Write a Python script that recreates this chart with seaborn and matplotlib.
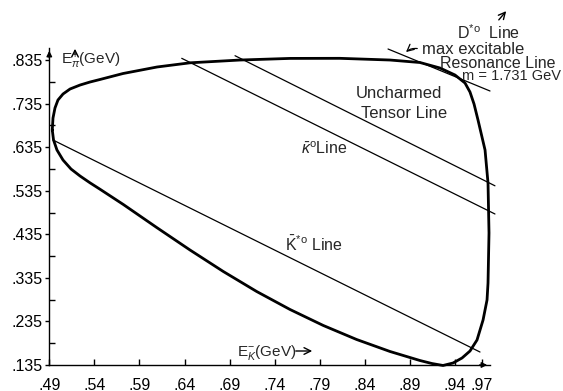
import matplotlib
matplotlib.use("Agg")
import matplotlib.pyplot as plt
import seaborn as sns
import pandas as pd

sns.set_theme(style="white")
plt.rcParams["font.family"] = ["Liberation Sans", "DejaVu Sans"]
plt.rcParams["mathtext.fontset"] = "custom"
plt.rcParams["mathtext.rm"] = "Liberation Sans"
plt.rcParams["mathtext.it"] = "Liberation Sans:italic"
plt.rcParams["mathtext.bf"] = "Liberation Sans:bold"

# ---- data ----
boundary_ek = [0.4933, 0.4941, 0.4963, 0.4996, 0.5052, 0.5130, 0.5241, 0.5351, 0.5462,
               0.5717, 0.6095, 0.6461, 0.7015, 0.7570, 0.8122, 0.8679, 0.9011, 0.9233,
               0.9400, 0.9511, 0.9566, 0.9611, 0.9655, 0.9733, 0.9766, 0.9777, 0.9766,
               0.9755, 0.9711, 0.9644, 0.9566, 0.9478, 0.9378, 0.9267, 0.9144, 0.9011,
               0.8679, 0.8309, 0.7939, 0.7570, 0.7200, 0.6830, 0.6461, 0.6091, 0.5721,
               0.5462, 0.5351, 0.5241, 0.5141, 0.5052, 0.4985, 0.4947, 0.4933]
boundary_epi = [0.6744, 0.7019, 0.7249, 0.7432, 0.7570, 0.7685, 0.7776, 0.7845, 0.7903,
                0.8040, 0.8190, 0.8286, 0.8350, 0.8387, 0.8389, 0.8350, 0.8293, 0.8167,
                0.8006, 0.7822, 0.7616, 0.7340, 0.6973, 0.6285, 0.5527, 0.4380, 0.3232,
                0.2842, 0.2383, 0.1924, 0.1671, 0.1511, 0.1396, 0.1339, 0.1384, 0.1453,
                0.1660, 0.1935, 0.2257, 0.2624, 0.3037, 0.3496, 0.3989, 0.4506, 0.5034,
                0.5385, 0.5532, 0.5688, 0.5848, 0.6055, 0.6285, 0.6514, 0.6744]

kstar_ek = [0.4941, 0.9677]
kstar_epi = [0.6514, 0.1648]
kappa_ek = [0.6369, 0.9843]
kappa_epi = [0.8389, 0.4816]
tensor_ek = [0.6960, 0.9843]
tensor_epi = [0.8449, 0.5463]
dstar_ek = [0.8657, 0.9788]
dstar_epi = [0.8603, 0.7639]

x_ticks = [0.49, 0.54, 0.59, 0.64, 0.69, 0.74, 0.79, 0.84, 0.89, 0.94, 0.97]
x_labels = [".49", ".54", ".59", ".64", ".69", ".74", ".79", ".84", ".89", ".94", ".97"]
y_ticks = [0.135, 0.235, 0.335, 0.435, 0.535, 0.635, 0.735, 0.835]
y_labels = [".135", ".235", ".335", ".435", ".535", ".635", ".735", ".835"]
y_minor = [0.185, 0.285, 0.385, 0.485, 0.585, 0.685, 0.785]

W, H = 563, 391


def P(px, py):
    return (px / W, 1 - py / H)


fig = plt.figure(figsize=(W / 100, H / 100), dpi=100)
ax = fig.add_axes([49.3 / W, 26 / H, 440.7 / W, 317 / H])
ax.set_xlim(0.49, 0.9788)
ax.set_ylim(0.135, 0.8626)

sns.lineplot(x=boundary_ek, y=boundary_epi, sort=False, estimator=None, ax=ax,
             color="black", lw=2.0)
for xs, ys in [(kstar_ek, kstar_epi), (kappa_ek, kappa_epi),
               (tensor_ek, tensor_epi), (dstar_ek, dstar_epi)]:
    sns.lineplot(x=xs, y=ys, sort=False, estimator=None, ax=ax, color="black",
                 lw=0.9)
for l in ax.lines:
    l.set_clip_on(False)
    l.set_solid_joinstyle("round")

for s in ["top", "right"]:
    ax.spines[s].set_visible(False)
for s in ["left", "bottom"]:
    ax.spines[s].set_color("black")
    ax.spines[s].set_linewidth(1.0)

ax.set_xticks(x_ticks)
ax.set_xticklabels(x_labels)
ax.set_yticks(y_ticks)
ax.set_yticklabels(y_labels)
ax.set_yticks(y_minor, minor=True)
ax.tick_params(axis="x", which="major", direction="in", length=4, width=1,
               pad=9, labelsize=11.5, bottom=True, colors="black")
ax.tick_params(axis="y", which="major", direction="out", length=3, width=1,
               pad=2, labelsize=11.5, left=True, colors="black")
ax.tick_params(axis="y", which="minor", direction="in", length=4, width=1,
               left=True, colors="black")
ax.set_xlabel("")
ax.set_ylabel("")

# axis arrows
ax.annotate("", xy=(1.0, 0), xytext=(0.97, 0), xycoords="axes fraction",
            arrowprops=dict(arrowstyle="-|>", lw=1, color="black",
                            mutation_scale=8))
ax.annotate("", xy=(0, 1.0), xytext=(0, 0.96), xycoords="axes fraction",
            arrowprops=dict(arrowstyle="-|>", lw=1, color="black",
                            mutation_scale=8))

# labels
fig.text(*P(399, 93), "Uncharmed", ha="center", va="center", fontsize=12)
fig.text(*P(404, 113), "Tensor Line", ha="center", va="center", fontsize=12)
fig.text(*P(324, 149), r"$\bar{\kappa}^{\mathrm{o}}$Line", ha="center", va="center",
         fontsize=11.5)
fig.text(*P(314, 244), r"$\bar{\mathrm{K}}^{*\mathrm{o}}$ Line", ha="center",
         va="center", fontsize=11.5)
fig.text(*P(457, 33), r"D$^{*\mathrm{o}}$  Line", ha="left", va="center", fontsize=11.5)
fig.text(*P(422, 49), "max excitable", ha="left", va="center", fontsize=12)
fig.text(*P(555, 63), "Resonance Line", ha="right", va="center", fontsize=11.5)
fig.text(*P(561, 76), "m = 1.731 GeV", ha="right", va="center", fontsize=10.5)

ax.annotate("", xy=P(508, 9), xytext=P(497, 22), xycoords="figure fraction",
            arrowprops=dict(arrowstyle="->", lw=1, color="black"))
ax.annotate("", xy=P(404, 54), xytext=P(420, 49), xycoords="figure fraction",
            arrowprops=dict(arrowstyle="->", lw=0.9, color="black",
                            connectionstyle="arc3,rad=0.3"))

fig.text(*P(61, 61), r"E$_{\pi}^{+}$(GeV)", ha="left", va="center", fontsize=11)
ax.annotate("", xy=P(75, 46), xytext=P(75, 57), xycoords="figure fraction",
            arrowprops=dict(arrowstyle="->", lw=1, color="black"))
fig.text(*P(237, 352), r"E$_{K}^{-}$(GeV)", ha="left", va="center", fontsize=11)
ax.annotate("", xy=P(315, 351), xytext=P(293, 351), xycoords="figure fraction",
            arrowprops=dict(arrowstyle="->", lw=1, color="black"))

fig.savefig("out.png", dpi=100)
